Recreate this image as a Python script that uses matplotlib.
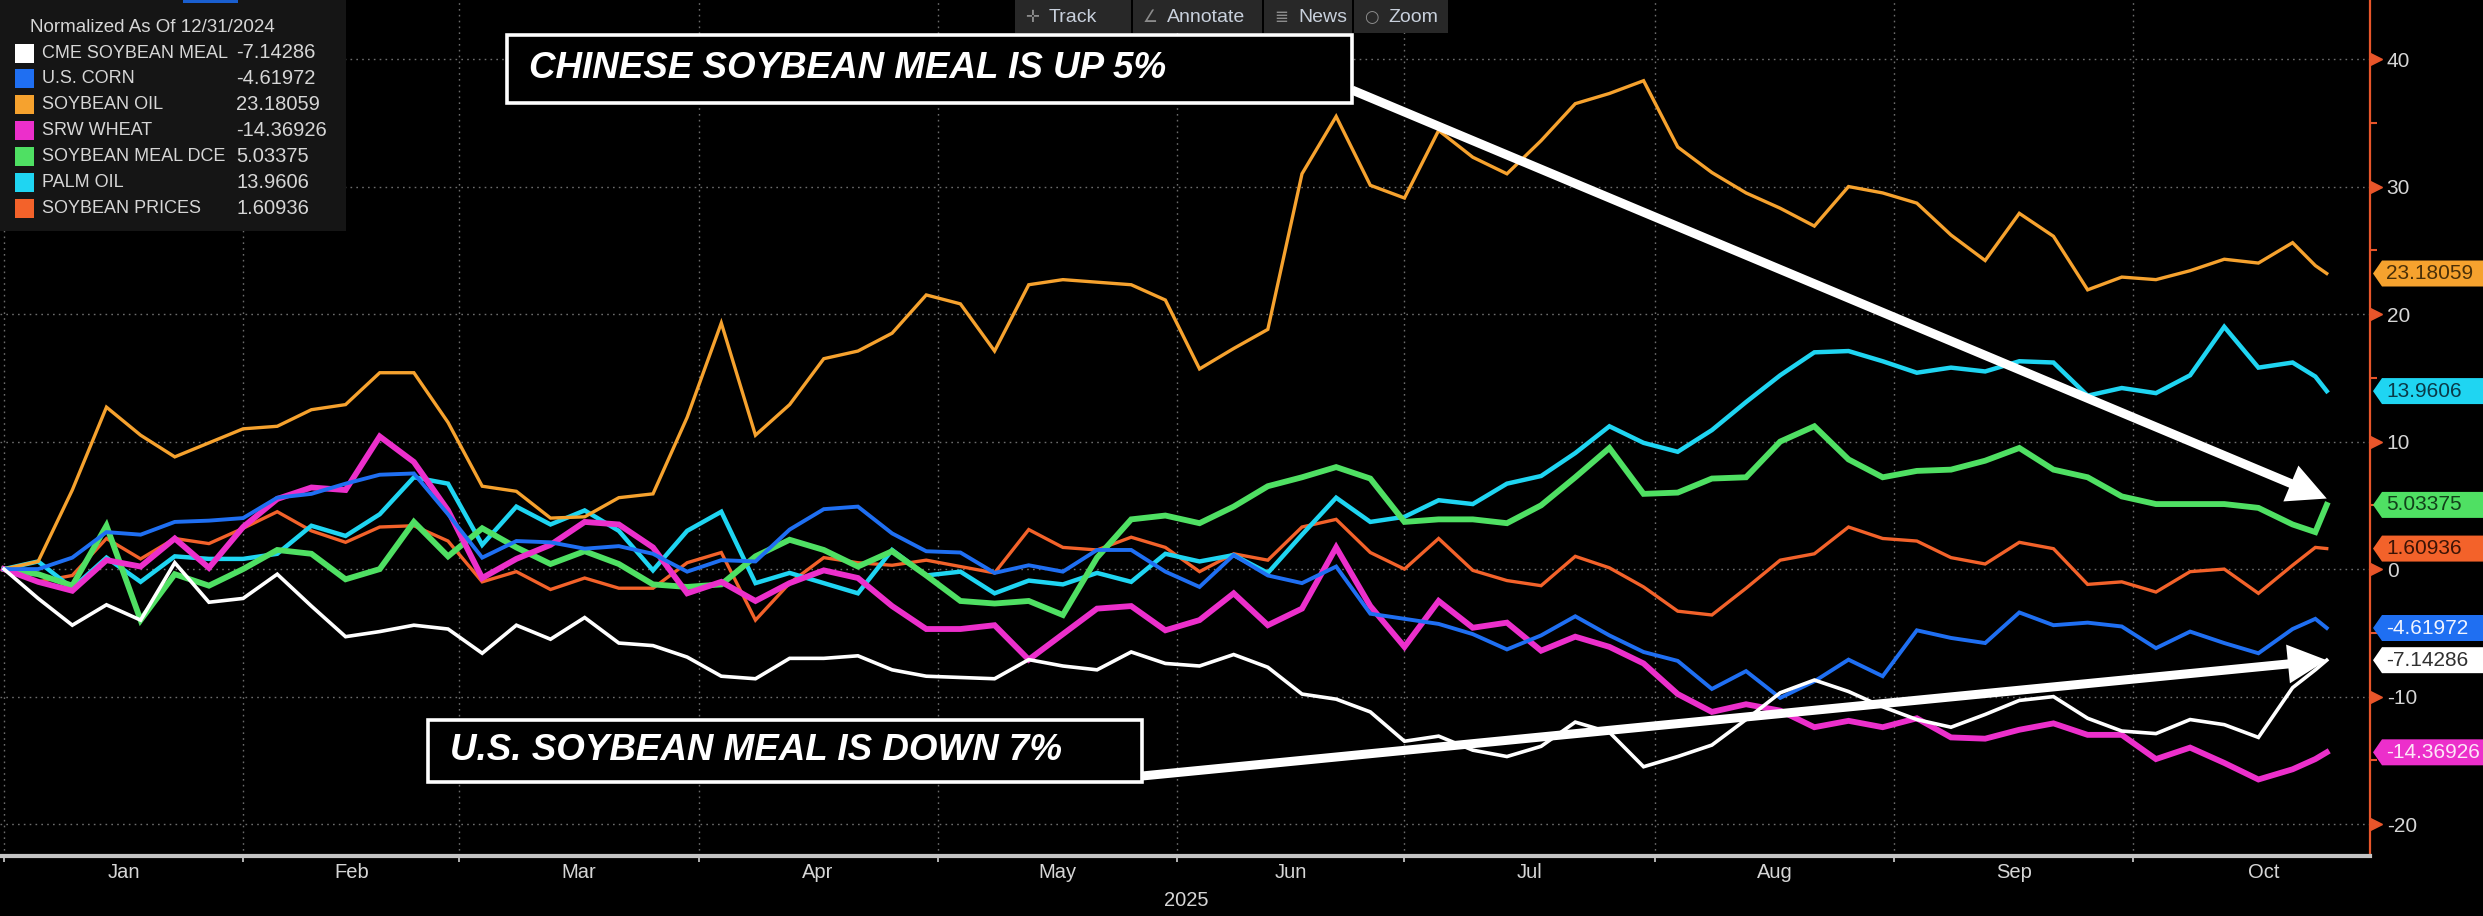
import matplotlib.pyplot as plt
import matplotlib.transforms as mtransforms
from matplotlib.patches import Rectangle, Polygon
import numpy as np
import pandas as pd

plt.rcParams['axes.unicode_minus'] = False

W, H = 2483, 916

# trading calendar (exchange closures), readings taken every 3rd session
holidays = ['2025-01-01', '2025-01-09', '2025-01-20', '2025-02-17', '2025-04-18',
            '2025-05-26', '2025-06-19', '2025-07-04', '2025-09-01']
cal = pd.bdate_range('2024-12-31', '2025-11-28', freq='C', holidays=holidays)
obs_dates = cal[0:202:3].append(cal[[203, 204]])

# normalized % change since 12/31/2024
cme_meal = [0, -2.3, -4.4, -2.8, -4.0, 0.5, -2.6, -2.3, -0.4, -2.9, -5.3, -4.9, -4.4, -4.7, -6.6, -4.4, -5.5, -3.8, -5.8,
            -6.0, -6.9, -8.4, -8.6, -7.0, -7.0, -6.8, -7.9, -8.4, -8.5, -8.6, -7.1, -7.6, -7.9, -6.5, -7.4, -7.6,
            -6.7, -7.7, -9.8, -10.2, -11.2, -13.5, -13.1, -14.2, -14.7, -13.9, -12.0, -12.8, -15.5, -14.7, -13.8, -11.8, -9.7, -8.7,
            -9.6, -10.8, -11.8, -12.4, -11.4, -10.3, -10.0, -11.7, -12.7, -12.9, -11.8, -12.2, -13.2, -9.3, -7.9, -7.14286]
us_corn = [0, 0, 0.9, 2.9, 2.7, 3.7, 3.8, 4.0, 5.6, 5.9, 6.7, 7.4, 7.5, 4.3, 0.9, 2.2, 2.1, 1.6, 1.8,
           1.2, -0.2, 0.7, 0.6, 3.1, 4.7, 4.9, 2.8, 1.4, 1.3, -0.3, 0.3, -0.2, 1.5, 1.5, -0.2, -1.4,
           1.1, -0.5, -1.1, 0.2, -3.5, -3.9, -4.3, -5.1, -6.3, -5.2, -3.7, -5.2, -6.5, -7.2, -9.4, -8.0, -10.1, -8.8,
           -7.1, -8.4, -4.8, -5.4, -5.8, -3.4, -4.4, -4.2, -4.5, -6.2, -4.9, -5.8, -6.6, -4.7, -3.9, -4.61972]
soy_oil = [0, 0.6, 6.2, 12.7, 10.5, 8.8, 9.9, 11.0, 11.2, 12.5, 12.9, 15.4, 15.4, 11.5, 6.5, 6.1, 4.0, 4.1, 5.6,
           5.9, 11.9, 19.3, 10.5, 12.9, 16.5, 17.1, 18.5, 21.5, 20.8, 17.1, 22.3, 22.7, 22.5, 22.3, 21.1, 15.7,
           17.3, 18.8, 31.0, 35.5, 30.1, 29.1, 34.4, 32.3, 31.0, 33.6, 36.5, 37.3, 38.3, 33.1, 31.1, 29.5, 28.3, 26.9,
           30.0, 29.5, 28.7, 26.2, 24.2, 27.9, 26.1, 21.9, 22.9, 22.7, 23.4, 24.3, 24.0, 25.6, 23.8, 23.18059]
srw_wheat = [0, -1.0, -1.7, 0.7, 0.2, 2.4, 0.1, 3.3, 5.5, 6.4, 6.2, 10.4, 8.4, 4.6, -0.7, 0.8, 1.9, 3.7, 3.5,
             1.7, -1.9, -1.0, -2.5, -1.1, -0.1, -0.7, -2.9, -4.7, -4.7, -4.4, -7.1, -5.1, -3.1, -2.9, -4.8, -4.0,
             -1.9, -4.4, -3.1, 1.7, -2.9, -6.1, -2.5, -4.6, -4.2, -6.4, -5.3, -6.1, -7.4, -9.8, -11.2, -10.6, -11.1, -12.4,
             -11.9, -12.4, -11.7, -13.2, -13.3, -12.6, -12.1, -13.0, -13.0, -14.9, -14.0, -15.2, -16.5, -15.7, -14.9, -14.36926]
dce_meal = [0, -0.4, -1.3, 3.4, -4.0, -0.4, -1.3, 0, 1.5, 1.2, -0.8, 0, 3.7, 1.0, 3.2, 1.7, 0.4, 1.4, 0.4,
            -1.2, -1.4, -1.2, 1.0, 2.3, 1.5, 0.2, 1.4, -0.5, -2.5, -2.7, -2.5, -3.6, 0.9, 3.9, 4.2, 3.6,
            4.9, 6.5, 7.2, 8.0, 7.1, 3.7, 3.9, 3.9, 3.6, 5.0, 7.2, 9.5, 5.9, 6.0, 7.1, 7.2, 10.0, 11.2,
            8.6, 7.2, 7.7, 7.8, 8.5, 9.5, 7.8, 7.2, 5.7, 5.1, 5.1, 5.1, 4.8, 3.5, 2.9, 5.03375]
palm_oil = [0, 0.6, -1.5, 0.9, -1.0, 1.0, 0.8, 0.8, 1.2, 3.4, 2.6, 4.3, 7.2, 6.7, 1.9, 4.9, 3.5, 4.6, 3.0,
            -0.1, 3.0, 4.5, -1.1, -0.3, -1.1, -1.9, 1.5, -0.5, -0.2, -1.9, -0.9, -1.2, -0.3, -1.0, 1.2, 0.6,
            1.1, -0.3, 2.7, 5.6, 3.7, 4.1, 5.4, 5.1, 6.7, 7.3, 9.1, 11.2, 9.9, 9.2, 10.9, 13.1, 15.2, 17.0,
            17.1, 16.3, 15.4, 15.8, 15.5, 16.3, 16.2, 13.6, 14.2, 13.8, 15.2, 19.0, 15.8, 16.2, 15.1, 13.9606]
soybeans = [0, -1.0, -0.5, 2.4, 0.8, 2.4, 2.0, 3.2, 4.5, 3.0, 2.1, 3.3, 3.4, 2.2, -1.0, -0.2, -1.6, -0.7, -1.5,
            -1.5, 0.5, 1.3, -4.0, -1.1, 0.9, 0.5, 0.3, 0.7, 0.2, -0.3, 3.1, 1.7, 1.5, 2.5, 1.7, -0.2,
            1.2, 0.7, 3.3, 3.9, 1.3, 0, 2.4, -0.1, -0.9, -1.3, 1.0, 0.1, -1.4, -3.3, -3.6, -1.5, 0.7, 1.2,
            3.3, 2.4, 2.2, 0.9, 0.4, 2.1, 1.6, -1.2, -1.0, -1.8, -0.2, 0, -1.9, 0.3, 1.7, 1.60936]

names = ['CME SOYBEAN MEAL', 'U.S. CORN', 'SOYBEAN OIL', 'SRW WHEAT',
         'SOYBEAN MEAL DCE', 'PALM OIL', 'SOYBEAN PRICES']
values = [cme_meal, us_corn, soy_oil, srw_wheat, dce_meal, palm_oil, soybeans]
colors = ['#ffffff', '#1f6ff2', '#f6a22e', '#ec2fcb', '#4fe063', '#1fd5f2', '#f3622a']
widths = [2.6, 2.8, 2.4, 4.2, 4.2, 3.2, 2.4]
label_txt = ['#303030', '#f0f4ff', '#4a3008', '#fde6f8', '#12401a', '#0a3a48', '#3c1406']

months = ['Jan', 'Feb', 'Mar', 'Apr', 'May', 'Jun', 'Jul', 'Aug', 'Sep', 'Oct']
x = cal.get_indexer(obs_dates)
m_start = [0] + [int(np.flatnonzero((cal.year == 2025) & (cal.month == m))[0]) for m in range(2, 12)]
m_mid = [(m_start[i] + m_start[i + 1]) / 2 for i in range(10)]

axis_col = '#e8552a'
txt_col = '#d6d6d6'
sans = ['Liberation Sans', 'DejaVu Sans']


def fx(px):
    return px / W


def fy(py):
    return 1 - py / H


fig = plt.figure(figsize=(W / 100, H / 100), dpi=100, facecolor='black')
ax = fig.add_axes([0, 60 / H, 2370 / W, 856 / H], facecolor='black')
ax.set_xlim(-0.35, 207.8)
ax.set_ylim(-22.5, 44.63)

# first legend entry drawn on top
for v, c, lw in list(zip(values, colors, widths))[::-1]:
    ax.plot(x, v, color=c, lw=lw, solid_joinstyle='miter')

# grid, ticks, spines
ax.set_axisbelow(True)
ax.set_xticks(m_start[:10])
ax.set_xticks(m_mid, minor=True)
ax.set_xticklabels(months, minor=True, family=sans)
ax.tick_params(axis='x', which='major', length=4, width=1.2, color='#d0d0d0', labelbottom=False)
ax.tick_params(axis='x', which='minor', length=0, pad=5, labelsize=14.5, labelcolor=txt_col)
ax.yaxis.tick_right()
ax.set_yticks(range(-20, 41, 10))
ax.set_yticks(range(-15, 41, 10), minor=True)
ax.set_yticklabels([str(t) for t in range(-20, 41, 10)], family=sans)
ax.tick_params(axis='y', which='major', length=0, pad=12, labelsize=15, labelcolor=txt_col)
ax.tick_params(axis='y', which='minor', length=5, width=1.5, color=axis_col)
ax.grid(True, which='major', color='#6c6c6c', linestyle=(0, (1.2, 3)), linewidth=1)
for s in ['left', 'top']:
    ax.spines[s].set_visible(False)
ax.spines['right'].set_color(axis_col)
ax.spines['right'].set_linewidth(1.6)
ax.spines['bottom'].set_color('#c4c4c4')
ax.spines['bottom'].set_linewidth(3)

tri_tf = mtransforms.offset_copy(ax.get_yaxis_transform(), fig=fig, x=4, y=0, units='points')
ax.plot(np.ones(7), list(range(-20, 41, 10)), linestyle='none', marker='>', ms=8,
        color=axis_col, transform=tri_tf, clip_on=False)

fig.text(fx(1186), fy(901), '2025', ha='center', va='center', color=txt_col, fontsize=14.5, family=sans)

# last-value tags on the right axis
for v, c, tc in zip(values, colors, label_txt):
    yc = ax.transData.transform((0, v[-1]))[1]
    pts = [(2373, yc), (2382, yc + 13), (W, yc + 13), (W, yc - 13), (2382, yc - 13)]
    fig.add_artist(Polygon([(px / W, py / H) for px, py in pts], closed=True,
                           facecolor=c, edgecolor='none', transform=fig.transFigure))
    fig.text(fx(2386), yc / H, f'{v[-1]:.5f}'.rstrip('0'), ha='left', va='center',
             color=tc, fontsize=15, family=sans)

# legend panel
fig.add_artist(Rectangle((0, fy(231)), fx(346), 231 / H, facecolor='#151515',
                         edgecolor='none', transform=fig.transFigure))
fig.text(fx(30), fy(28), 'Normalized As Of 12/31/2024', ha='left', va='center',
         color=txt_col, fontsize=13.5, family=sans)
for i, (n, v, c) in enumerate(zip(names, values, colors)):
    yy = 53 + i * 25.9
    fig.add_artist(Rectangle((fx(15), fy(yy + 9.5)), fx(19), 19 / H, facecolor=c,
                             edgecolor='none', transform=fig.transFigure))
    fig.text(fx(42), fy(yy), n, ha='left', va='center', color=txt_col, fontsize=13, family=sans)
    fig.text(fx(236), fy(yy), f'{v[-1]:.5f}'.rstrip('0'), ha='left', va='center',
             color=txt_col, fontsize=14.5, family=sans)

# toolbar
fig.add_artist(Rectangle((fx(183), fy(3)), fx(55), 3 / H, facecolor='#1a5fd0',
                         edgecolor='none', transform=fig.transFigure))
tools = [('✛', 'Track', 1015, 1131), ('∠', 'Annotate', 1133, 1262),
         ('≣', 'News', 1264, 1352), ('○', 'Zoom', 1354, 1448)]
for icon, t, x0, x1 in tools:
    fig.add_artist(Rectangle((fx(x0), fy(33)), fx(x1 - x0), 33 / H, facecolor='#282828',
                             edgecolor='none', transform=fig.transFigure))
    fig.text(fx(x0 + 17), fy(17), icon, ha='center', va='center', color='#8c8c8c', fontsize=12,
             family=['DejaVu Sans'])
    fig.text(fx(x0 + 34), fy(17), t, ha='left', va='center', color='#c8d0dc', fontsize=14, family=sans)

# call-out boxes and arrows
for (x0, y0, x1, y1), txt in [((507, 35, 1352, 103), 'CHINESE SOYBEAN MEAL IS UP 5%'),
                              ((428, 720, 1142, 782), 'U.S. SOYBEAN MEAL IS DOWN 7%')]:
    fig.add_artist(Rectangle((fx(x0), fy(y1)), fx(x1 - x0), (y1 - y0) / H, facecolor='black',
                             edgecolor='white', linewidth=2.6, transform=fig.transFigure, zorder=5))
    fig.text(fx(x0 + 22), fy((y0 + y1) / 2), txt, ha='left', va='center', color='white',
             fontsize=26.5, fontweight='bold', fontstyle='italic', family=sans, zorder=6)

arrow = dict(arrowstyle='simple,head_length=2.8,head_width=2.8,tail_width=0.65',
             mutation_scale=10, facecolor='white', edgecolor='none', shrinkA=0, shrinkB=0)
ax.annotate('', xy=(x[-1], dce_meal[-1] + 0.5), xycoords='data',
            xytext=(fx(1352), fy(90)), textcoords='figure fraction', arrowprops=arrow)
ax.annotate('', xy=(x[-1], cme_meal[-1]), xycoords='data',
            xytext=(fx(1142), fy(776)), textcoords='figure fraction', arrowprops=arrow)

fig.savefig('out.png', dpi=100, facecolor='black')
